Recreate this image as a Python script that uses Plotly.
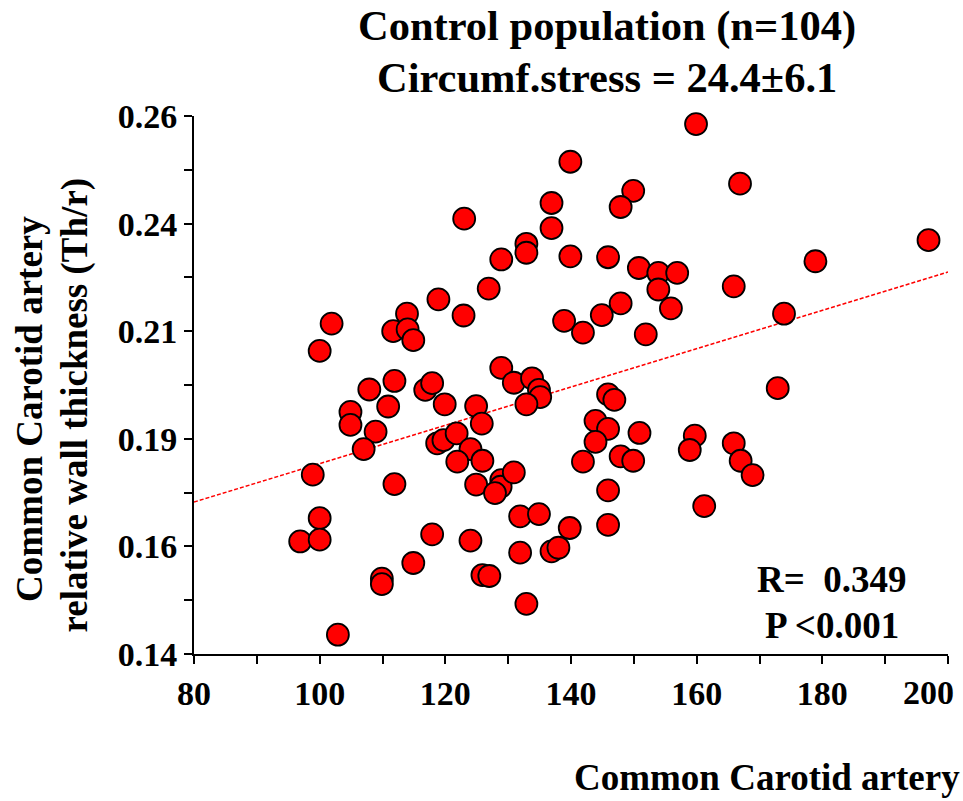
import plotly.graph_objects as go

# Circumferential stress (x) vs relative wall thickness Th/r (y), control group
stress = [
    159.9, 139.9, 166.9, 149.9, 136.9, 147.9, 123.0, 136.9, 132.9, 132.9,
    139.9, 128.9, 145.9, 196.9, 178.9, 150.8, 153.9, 156.9, 153.9, 165.9,
    126.9, 155.9, 173.9, 147.9, 144.9, 138.9, 141.9, 151.9, 118.9, 113.9,
    122.9, 101.9, 111.7, 114.0, 114.9, 100.0, 128.9, 107.9, 111.9, 116.8,
    117.9, 130.9, 133.8, 134.9, 135.1, 132.9, 104.9, 104.9, 110.9, 119.9,
    124.9, 125.8, 108.9, 107.0, 118.7, 119.7, 121.8, 124.0, 121.9, 125.9,
    98.9, 111.9, 124.9, 128.9, 128.8, 127.9, 130.9, 100.0, 131.9, 134.9,
    139.8, 96.9, 100.0, 117.9, 124.0, 131.9, 136.9, 138.0, 114.9, 109.9,
    109.9, 125.9, 127.0, 132.9, 102.9, 172.9, 145.9, 146.9, 143.9, 145.9,
    150.9, 143.9, 141.9, 147.9, 149.9, 159.7, 158.9, 165.9, 167.0, 168.9,
    145.9, 161.2, 145.9,
]
thickness = [
    0.2582, 0.2498, 0.2449, 0.2433, 0.2406, 0.2397, 0.2371, 0.2350, 0.2315, 0.2295,
    0.2287, 0.2280, 0.2285, 0.2323, 0.2276, 0.2261, 0.2250, 0.2250, 0.2213, 0.2220,
    0.2215, 0.2171, 0.2159, 0.2182, 0.2156, 0.2143, 0.2117, 0.2113, 0.2191, 0.2159,
    0.2155, 0.2137, 0.2120, 0.2124, 0.2100, 0.2076, 0.2038, 0.1990, 0.2009, 0.1989,
    0.2004, 0.2005, 0.2015, 0.1989, 0.1973, 0.1957, 0.1940, 0.1911, 0.1952, 0.1957,
    0.1953, 0.1914, 0.1896, 0.1857, 0.1870, 0.1877, 0.1892, 0.1857, 0.1829, 0.1831,
    0.1800, 0.1779, 0.1778, 0.1788, 0.1773, 0.1759, 0.1805, 0.1703, 0.1707, 0.1712,
    0.1681, 0.1651, 0.1655, 0.1667, 0.1653, 0.1626, 0.1629, 0.1637, 0.1603, 0.1568,
    0.1556, 0.1576, 0.1574, 0.1512, 0.1443, 0.1993, 0.1979, 0.1967, 0.1920, 0.1902,
    0.1893, 0.1873, 0.1829, 0.1841, 0.1831, 0.1887, 0.1855, 0.1870, 0.1831, 0.1799,
    0.1765, 0.1730, 0.1688,
]

# Linear regression line: thickness = intercept + slope * stress
fit_intercept = 0.1397
fit_slope = 0.0004275

x_tick_values = [80, 90, 100, 110, 120, 130, 140, 150, 160, 170, 180, 190, 200]
x_tick_labels = ["80", "", "100", "", "120", "", "140", "", "160", "", "180", "", "200"]
y_tick_values = [0.14, 0.152, 0.164, 0.176, 0.188, 0.2, 0.212, 0.224, 0.236, 0.248, 0.26]
y_tick_labels = ["0.14", "", "0.16", "", "0.19", "", "0.21", "", "0.24", "", "0.26"]

x_range = [80, 200]
y_range = [0.14, 0.26]

SERIF = "Liberation Serif"
TICK_FONT = dict(family=SERIF, size=34, color="black", weight="bold")

# the label of the last x tick is set a little inward so it stays on the page
x_tick_text = list(x_tick_labels[:-1]) + [""]

fig = go.Figure()

fit_x = x_range
fit_y = [fit_intercept + fit_slope * v for v in fit_x]
fig.add_trace(go.Scatter(
    x=fit_x, y=fit_y, mode="lines",
    line=dict(color="#ff0000", width=1.5, dash="4px,2px"),
    hoverinfo="skip", showlegend=False,
))

fig.add_trace(go.Scatter(
    x=stress, y=thickness, mode="markers",
    marker=dict(size=22, color="#ff0000", line=dict(color="black", width=1.8)),
    cliponaxis=False, showlegend=False,
))

axis_common = dict(
    showgrid=False, zeroline=False, showline=True, linecolor="black", linewidth=2,
    ticks="outside", ticklen=8, tickwidth=2, tickcolor="black",
    tickfont=TICK_FONT, tickmode="array",
)

fig.update_xaxes(range=x_range, tickvals=x_tick_values, ticktext=x_tick_text, **axis_common)
fig.update_yaxes(range=y_range, tickvals=y_tick_values, ticktext=y_tick_labels, **axis_common)

fig.add_annotation(
    text=x_tick_labels[-1], x=x_tick_values[-1], xref="x", y=-0.0719, yref="paper",
    xanchor="center", yanchor="middle", xshift=-20, showarrow=False, font=TICK_FONT,
)

def label(text, x, y, size, angle=0, xanchor="center"):
    fig.add_annotation(
        text=text, x=x, y=y, xref="paper", yref="paper",
        xanchor=xanchor, yanchor="middle", showarrow=False, textangle=angle,
        font=dict(family=SERIF, size=size, color="black", weight="bold"),
    )

label("Control population (n=104)", 0.548, 1.167, 42.5)
label("Circumf.stress = 24.4±6.1", 0.548, 1.0715, 42.5)
label("Common Carotid artery", -0.2175, 0.4555, 37, angle=-90)
label("relative wall thickness (Th/r)", -0.1578, 0.462, 37, angle=-90)
label("Common Carotid artery", 1.018, -0.2297, 37, xanchor="right")
label("R=&nbsp; 0.349", 0.846, 0.138, 37)
label("P &lt;0.001", 0.846, 0.0525, 37)

fig.update_layout(
    width=963, height=801,
    margin=dict(l=194, r=15, t=116, b=147, autoexpand=False),
    paper_bgcolor="white", plot_bgcolor="white",
    showlegend=False,
)

fig.write_html("out.html")
